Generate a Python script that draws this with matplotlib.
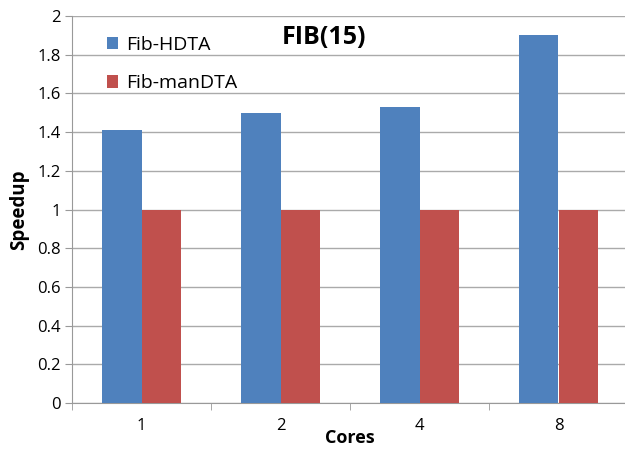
import matplotlib
matplotlib.use("Agg")
import matplotlib.pyplot as plt
import numpy as np

categories = ["1", "2", "4", "8"]
series_names = ["Fib-HDTA", "Fib-manDTA"]
hdta = [1.41, 1.50, 1.53, 1.90]
mandta = [1.0, 1.0, 1.0, 1.0]
title = "FIB(15)"

plt.rcParams['font.family'] = ['Open Sans', 'DejaVu Sans']

fig = plt.figure(figsize=(6.25, 4.5), dpi=100)
ax = fig.add_axes([72/625, 1-403/450, 556/625, 387/450])

x = np.arange(len(categories))
w = 1/3.5
blue = "#4F81BD"
red = "#C0504D"
ax.bar(x - w/2, hdta, w, color=blue, label=series_names[0], zorder=3)
ax.bar(x + w/2, mandta, w, color=red, label=series_names[1], zorder=3)

ax.set_xlim(-0.5, len(categories) - 0.5)
ax.set_ylim(0, 2)
ax.set_yticks(np.arange(0, 2.01, 0.2))
ax.set_yticklabels(["0", "0.2", "0.4", "0.6", "0.8", "1", "1.2", "1.4", "1.6", "1.8", "2"])
ax.set_xticks(x)
ax.set_xticklabels(categories)
ax.set_xticks(np.arange(-0.5, len(categories), 1), minor=True)
ax.tick_params(axis='x', which='major', length=0, labelsize=12, pad=11)
ax.tick_params(axis='x', which='minor', length=5, color="#999999", direction='out')
ax.tick_params(axis='y', length=5, color="#999999", labelsize=12, pad=3)

ax.grid(axis='y', color="#AAAAAA", linewidth=1, zorder=0)
for s in ['top', 'right']:
    ax.spines[s].set_visible(False)
ax.spines['left'].set_color("#999999")
ax.spines['bottom'].set_color("#999999")

ax.set_ylabel("Speedup", fontsize=13.5, fontweight='bold', labelpad=6)
ax.set_xlabel("Cores", fontsize=13, fontweight='bold', labelpad=-4)

fig.text(324/625, 1-37/450, title, fontsize=18, fontweight='bold', ha='center', va='center')

ax.legend(loc='upper left', bbox_to_anchor=(27/556, 1-12/387), frameon=False,
          fontsize=14, handlelength=0.6, handleheight=0.6, labelspacing=1.05,
          handletextpad=0.4, borderaxespad=0)

fig.savefig("out.png", dpi=100)
